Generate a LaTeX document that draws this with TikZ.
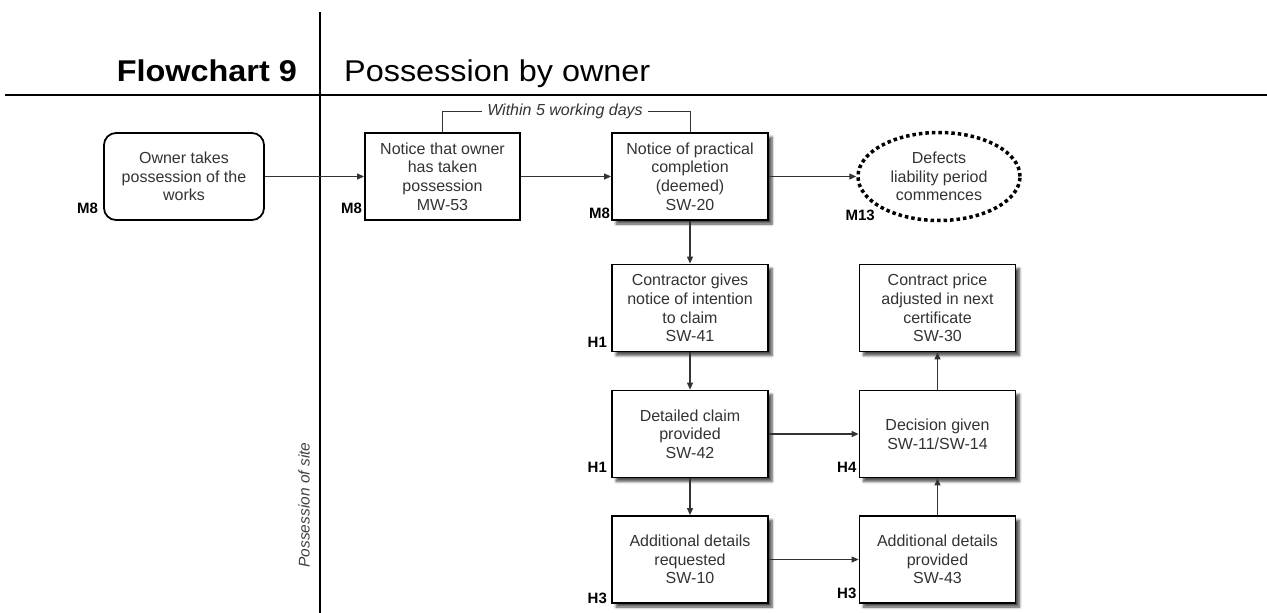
\documentclass[tikz,border=0pt]{standalone}
\usepackage{fontspec}
\setmainfont{Liberation Sans}
\usetikzlibrary{arrows.meta,shapes.geometric,shadows.blur}

\begin{document}
\begin{tikzpicture}[x=1pt,y=-1pt,
  txt/.style={font=\fontsize{16}{18.7}\selectfont, text=black!80},
  box/.style={draw, line width=1.8pt, fill=white, minimum width=156pt,
    minimum height=87pt, align=center, inner sep=2pt, txt},
  shbox/.style={box, blur shadow={shadow xshift=4pt, shadow yshift=-4pt,
    shadow blur radius=2.5pt, shadow blur steps=6, shadow opacity=70}},
  lab/.style={font=\bfseries\fontsize{15}{18}\selectfont, inner sep=0pt, anchor=base east},
  arr/.style={draw=black!80, line width=1.1pt, -{Triangle[length=7pt,width=6pt]}},
  rule/.style={line width=2.6pt},
  thin/.style={draw=black!80, line width=1pt},
]
\useasboundingbox (0,0) rectangle (1267,613);

% header rules and titles
\draw[rule] (320,12) -- (320,613);
\draw[rule] (5,95) -- (1267,95);
\node[font=\bfseries\fontsize{30}{36}\selectfont, anchor=base east, inner sep=0pt] (fc) at (297,81)
  {\scalebox{1.08}[1]{Flowchart 9}};
\node[font=\fontsize{30}{36}\selectfont, anchor=base west, inner sep=0pt] (ttl) at (344,81)
  {\scalebox{1.08}[1]{Possession by owner}};
\node[rotate=90, font=\itshape\fontsize{15.5}{18}\selectfont, text=black!75] (pos) at (304,505)
  {Possession of site};

% top row
\node[box, rounded corners=12pt, minimum width=160pt] (own) at (184,176.5)
  {Owner takes\\possession of the\\works};
\node[box, minimum width=155pt] (ntc) at (442.5,176.5)
  {Notice that owner\\has taken\\possession\\MW-53};
\node[shbox] (pc) at (690,176.5)
  {Notice of practical\\completion\\(deemed)\\SW-20};
\node[txt, draw, ellipse, line width=3.5pt, dash pattern=on 3.5pt off 3pt,
  minimum width=162pt, minimum height=88pt, align=center, inner sep=0pt] (dlp) at (939,176.5)
  {Defects\\liability period\\commences};

% claim boxes
\node[shbox] (nic) at (690,308) {Contractor gives\\notice of intention\\to claim\\SW-41};
\node[shbox] (dcp) at (690,434) {Detailed claim\\provided\\SW-42};
\node[shbox] (adr) at (690,559.5) {Additional details\\requested\\SW-10};
\node[shbox] (cpa) at (937.5,308) {Contract price\\adjusted in next\\certificate\\SW-30};
\node[shbox] (dec) at (937.5,434) {Decision given\\SW-11/SW-14};
\node[shbox] (adp) at (937.5,559.5) {Additional details\\provided\\SW-43};

% clause references
\node[lab] (l1) at ([xshift=-5pt,yshift=7pt]own.south west) {M8};
\node[lab] (l2) at ([xshift=-2pt,yshift=7pt]ntc.south west) {M8};
\node[lab] (l3) at ([xshift=-1pt,yshift=2pt]pc.south west) {M8};
\node[lab] (l4) at (875,220) {M13};
\node[lab] (l5) at ([xshift=-4pt,yshift=5pt]nic.south west) {H1};
\node[lab] (l6) at ([xshift=-4pt,yshift=6pt]dcp.south west) {H1};
\node[lab] (l7) at ([xshift=-4pt,yshift=0pt]adr.south west) {H3};
\node[lab] (l8) at ([xshift=-2pt,yshift=6pt]dec.south west) {H4};
\node[lab] (l9) at ([xshift=-2pt,yshift=5pt]adp.south west) {H3};

% time bracket
\node[font=\itshape\fontsize{16}{18}\selectfont, text=black!80, inner xsep=5pt, inner ysep=0pt]
  (wd) at (565,111) {Within 5 working days};
\draw[thin] (ntc.north) |- (wd.west);
\draw[thin] (wd.east) -| (pc.north);

% connectors
\draw[arr] (own) -- (ntc);
\draw[arr] (ntc) -- (pc);
\draw[arr] (pc) -- (dlp);
\draw[arr] (pc) -- (nic);
\draw[arr] (nic) -- (dcp);
\draw[arr] (dcp) -- (adr);
\draw[arr] (dcp) -- (dec);
\draw[arr] (adr) -- (adp);
\draw[arr] (adp) -- (dec);
\draw[arr] (dec) -- (cpa);
\end{tikzpicture}
\end{document}
